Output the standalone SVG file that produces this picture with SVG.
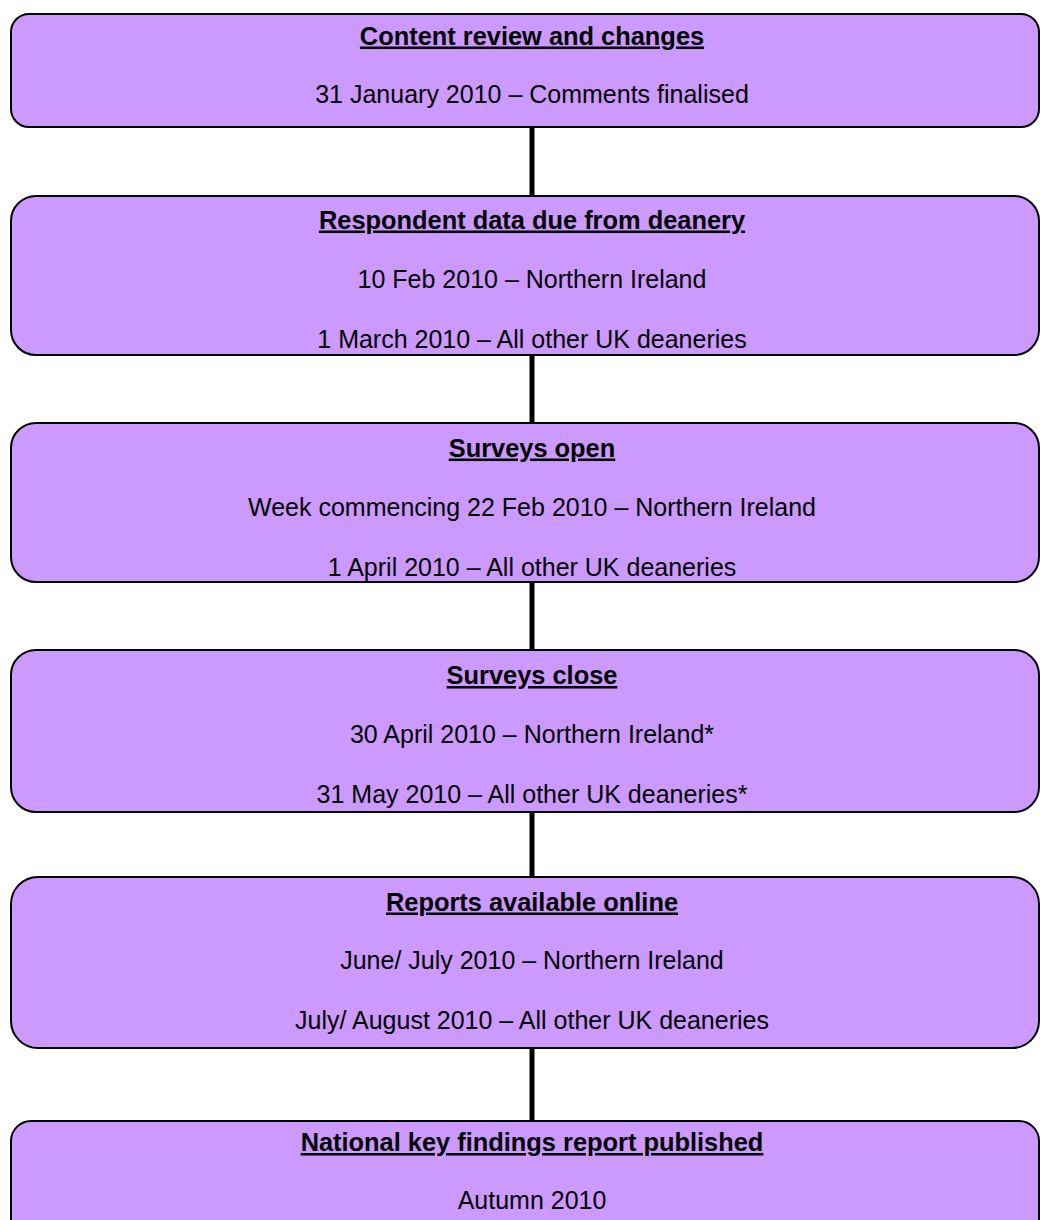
<svg xmlns="http://www.w3.org/2000/svg" width="1040" height="1220" viewBox="0 0 1040 1220">
<style>
.box{fill:#CC99FF;stroke:#000;stroke-width:2}
.conn{stroke:#000;stroke-width:5;fill:none}
text{font-family:"Liberation Sans",Arial,sans-serif;font-size:25px;fill:#000;text-anchor:middle}
.h{font-weight:bold;font-size:25.4px;text-decoration:underline}
</style>
<rect x="0" y="0" width="1040" height="1220" fill="#fff"/>
<g id="connectors">
<line class="conn" x1="532" y1="127" x2="532" y2="196"/>
<line class="conn" x1="532" y1="355" x2="532" y2="423"/>
<line class="conn" x1="532" y1="582" x2="532" y2="650"/>
<line class="conn" x1="532" y1="812" x2="532" y2="877"/>
<line class="conn" x1="532" y1="1048" x2="532" y2="1121"/>
</g>
<g id="node1">
<rect class="box" x="11" y="14" width="1028" height="113" rx="18"/>
<text class="h" x="532" y="44.5">Content review and changes</text>
<text x="532" y="102.5">31 January 2010 – Comments finalised</text>
</g>
<g id="node2">
<rect class="box" x="11" y="196" width="1028" height="159" rx="25"/>
<text class="h" x="532" y="228.5">Respondent data due from deanery</text>
<text x="532" y="287.5">10 Feb 2010 – Northern Ireland</text>
<text x="532" y="347.5">1 March 2010 – All other UK deaneries</text>
</g>
<g id="node3">
<rect class="box" x="11" y="423" width="1028" height="159" rx="25"/>
<text class="h" x="532" y="456.5">Surveys open</text>
<text x="532" y="515.5">Week commencing 22 Feb 2010 – Northern Ireland</text>
<text x="532" y="575.5">1 April 2010 – All other UK deaneries</text>
</g>
<g id="node4">
<rect class="box" x="11" y="650" width="1028" height="162" rx="25"/>
<text class="h" x="532" y="684">Surveys close</text>
<text x="532" y="742.5">30 April 2010 – Northern Ireland*</text>
<text x="532" y="802.5">31 May 2010 – All other UK deaneries*</text>
</g>
<g id="node5">
<rect class="box" x="11" y="877" width="1028" height="171" rx="27"/>
<text class="h" x="532" y="910.5">Reports available online</text>
<text x="532" y="969">June/ July 2010 – Northern Ireland</text>
<text x="532" y="1029">July/ August 2010 – All other UK deaneries</text>
</g>
<g id="node6">
<rect class="box" x="11" y="1121" width="1028" height="120" rx="20"/>
<text class="h" x="532" y="1151">National key findings report published</text>
<text x="532" y="1209">Autumn 2010</text>
</g>
</svg>
